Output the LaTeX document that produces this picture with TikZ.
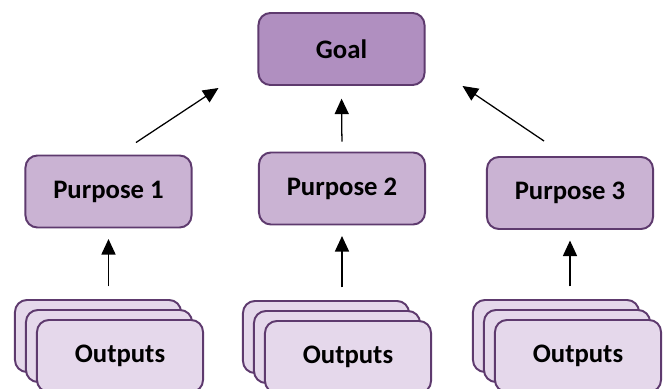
\documentclass[tikz,border=0pt]{standalone}
\usepackage{fontspec}
\setmainfont{Carlito}
\usetikzlibrary{arrows.meta}
\usetikzlibrary{calc,positioning}

\definecolor{plum}{HTML}{5E3A6E}
\definecolor{goalfill}{HTML}{B08FC0}
\definecolor{purposefill}{HTML}{CAB3D3}
\definecolor{outfill}{HTML}{E5D8EB}

\tikzset{
  box/.style={draw=plum, line width=1.4pt, rounded corners=8.5pt,
    minimum width=4.15cm, minimum height=1.8cm, inner sep=0pt,
    font=\fontsize{19}{22}\selectfont\bfseries},
  goalbox/.style={box, fill=goalfill},
  purposebox/.style={box, fill=purposefill},
  outbox/.style={box, fill=outfill},
  arr/.style={-{Triangle[length=11pt,width=10pt]}, line width=0.9pt},
}

\begin{document}
\begin{tikzpicture}[x=0.025cm, y=-0.025cm]
    \useasboundingbox (0,0) rectangle (667,389);

    \node[goalbox] (goal) at (341.5,49) {Goal};

    \node[purposebox] (p1) at (108.5,191.5) {Purpose 1};
    \node[purposebox] (p2) at (342,188.5) {Purpose 2};
    \node[purposebox] (p3) at (570,193) {Purpose 3};

    % stacks of outputs, back to front
    \foreach \x/\y/\i in {98/336/1, 326/337/2, 556/336/3} {
        \node[outbox] (outc\i) at (\x,\y) {};
        \node[outbox] (outb\i) at (\x+11,\y+10) {};
        \node[outbox] (out\i) at (\x+22,\y+20) {Outputs};
    }

    \foreach \i in {1,2,3}
        \draw[arr, shorten <=9pt, shorten >=7.5pt] (outc\i.north -| p\i.south) -- (p\i.south);

    \draw[arr, shorten <=7pt, shorten >=9pt] (p2.north) -- (goal.south);
    \draw[arr] ($(p1.north)+(27.5,-12)$) coordinate (l) -- ($(goal.south west)+(-39,2)$);
    \draw[arr] ($(p3.north)+(-26,-15)$) coordinate (r) -- ($(goal.south east)+(37,0)$);

\end{tikzpicture}
\end{document}
